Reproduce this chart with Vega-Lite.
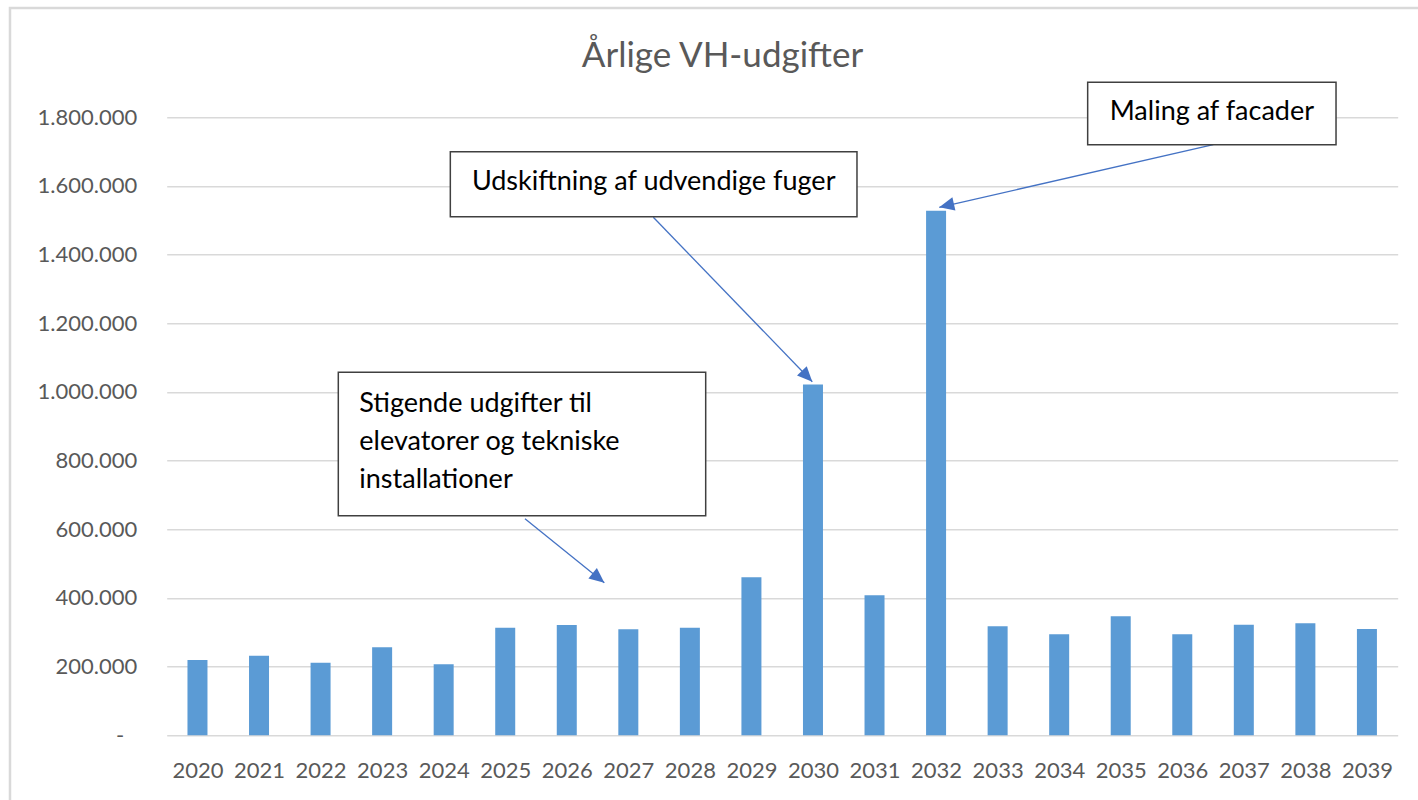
{
  "$schema": "https://vega.github.io/schema/vega-lite/v6.json",
  "width": 1231,
  "height": 618,
  "autosize": {"type": "none"},
  "padding": {"left": 166.7, "top": 117.3, "right": 20.3, "bottom": 64.7},
  "background": "white",
  "config": {"view": {"stroke": null}, "font": "Lato"},
  "title": {
    "text": "Årlige VH-udgifter",
    "font": "Lato",
    "fontSize": 35,
    "fontWeight": "normal",
    "color": "#595959",
    "anchor": "middle",
    "frame": "group",
    "dx": -59.7,
    "baseline": "alphabetic",
    "offset": -95
  },
  "datasets": {
    "costs": [
      {"year": 2020, "cost": 219300},
      {"year": 2021, "cost": 231800},
      {"year": 2022, "cost": 211500},
      {"year": 2023, "cost": 256300},
      {"year": 2024, "cost": 206800},
      {"year": 2025, "cost": 313400},
      {"year": 2026, "cost": 321300},
      {"year": 2027, "cost": 308700},
      {"year": 2028, "cost": 313400},
      {"year": 2029, "cost": 460200},
      {"year": 2030, "cost": 1022000},
      {"year": 2031, "cost": 407800},
      {"year": 2032, "cost": 1528000},
      {"year": 2033, "cost": 317500},
      {"year": 2034, "cost": 294000},
      {"year": 2035, "cost": 346600},
      {"year": 2036, "cost": 294000},
      {"year": 2037, "cost": 322000},
      {"year": 2038, "cost": 326000},
      {"year": 2039, "cost": 309600}
    ],
    "notes": [
      {"id": 1, "label": "Maling af facader", "bx1": 2034.463, "bx2": 2038.498, "by1": 1901940, "by2": 1720190, "tx": 2036.481, "ty": 1792150, "ax1": 2036.504, "ay1": 1720190, "ax2": 2032.052, "ay2": 1537860},
      {"id": 2, "label": "Udskiftning af udvendige fuger", "bx1": 2024.108, "bx2": 2030.715, "by1": 1699800, "by2": 1510480, "tx": 2027.412, "ty": 1588250, "ax1": 2027.406, "ay1": 1508740, "ax2": 2029.989, "ay2": 1029900},
      {"id": 3, "label": "Stigende udgifter til\nelevatorer og tekniske\ninstallationer", "bx1": 2022.288, "bx2": 2028.257, "by1": 1057280, "by2": 639610, "tx": 2022.629, "ty": 942520, "ax1": 2025.321, "ay1": 630870, "ax2": 2026.61, "ay2": 444470}
    ]
  },
  "layer": [
    {
      "data": {"values": [{}]},
      "mark": {"type": "rect", "fill": null, "stroke": "#d9d9d9", "strokeWidth": 2.5},
      "encoding": {
        "x": {"datum": 2016.954, "type": "quantitative"},
        "x2": {"datum": 2039.944},
        "y": {"datum": 2118350, "type": "quantitative"},
        "y2": {"datum": -250000}
      }
    },
    {
      "data": {"name": "costs"},
      "mark": {"type": "bar", "orient": "vertical", "size": 20, "color": "#5B9BD5"},
      "encoding": {
        "x": {
          "field": "year",
          "type": "quantitative",
          "scale": {"domain": [2019.5, 2039.5], "nice": false, "zero": false, "padding": 0},
          "axis": {
            "values": [2020, 2021, 2022, 2023, 2024, 2025, 2026, 2027, 2028, 2029, 2030, 2031, 2032, 2033, 2034, 2035, 2036, 2037, 2038, 2039],
            "format": "d",
            "title": null,
            "grid": false,
            "ticks": false,
            "tickSize": 0,
            "domain": false,
            "labelFont": "Lato",
            "labelFontSize": 22,
            "labelColor": "#595959",
            "labelPadding": 25,
            "labelOverlap": false,
            "labelFlush": false
          }
        },
        "y": {
          "field": "cost",
          "type": "quantitative",
          "scale": {"domain": [0, 1800000], "nice": false, "padding": 0},
          "axis": {
            "values": [0, 200000, 400000, 600000, 800000, 1000000, 1200000, 1400000, 1600000, 1800000],
            "title": null,
            "grid": true,
            "gridColor": "#d9d9d9",
            "gridWidth": 1.5,
            "ticks": false,
            "tickSize": 0,
            "domain": false,
            "labelFont": "Lato",
            "labelFontSize": 22,
            "labelColor": "#595959",
            "labelPadding": {"condition": {"test": "datum.value == 0", "value": 43}, "value": 30},
            "labelExpr": "datum.value == 0 ? '-' : replace(format(datum.value, ','), regexp(',', 'g'), '.')"
          }
        }
      }
    },
    {
      "data": {"name": "notes"},
      "mark": {"type": "rule", "color": "#4472C4", "strokeWidth": 1.3},
      "encoding": {
        "x": {"field": "ax1", "type": "quantitative"},
        "y": {"field": "ay1", "type": "quantitative"},
        "x2": {"field": "ax2"},
        "y2": {"field": "ay2"}
      }
    },
    {
      "data": {"name": "notes"},
      "transform": [{"filter": "datum.id == 1"}],
      "mark": {"type": "point", "shape": "M0,0L-0.45,1L0.45,1Z", "filled": true, "color": "#4472C4", "opacity": 1, "size": 900, "angle": 257.1},
      "encoding": {
        "x": {"field": "ax2", "type": "quantitative"},
        "y": {"field": "ay2", "type": "quantitative"}
      }
    },
    {
      "data": {"name": "notes"},
      "transform": [{"filter": "datum.id == 2"}],
      "mark": {"type": "point", "shape": "M0,0L-0.45,1L0.45,1Z", "filled": true, "color": "#4472C4", "opacity": 1, "size": 900, "angle": 136},
      "encoding": {
        "x": {"field": "ax2", "type": "quantitative"},
        "y": {"field": "ay2", "type": "quantitative"}
      }
    },
    {
      "data": {"name": "notes"},
      "transform": [{"filter": "datum.id == 3"}],
      "mark": {"type": "point", "shape": "M0,0L-0.45,1L0.45,1Z", "filled": true, "color": "#4472C4", "opacity": 1, "size": 900, "angle": 128.9},
      "encoding": {
        "x": {"field": "ax2", "type": "quantitative"},
        "y": {"field": "ay2", "type": "quantitative"}
      }
    },
    {
      "data": {"name": "notes"},
      "mark": {"type": "rect", "fill": "white", "stroke": "#404040", "strokeWidth": 1.5},
      "encoding": {
        "x": {"field": "bx1", "type": "quantitative"},
        "x2": {"field": "bx2"},
        "y": {"field": "by1", "type": "quantitative"},
        "y2": {"field": "by2"}
      }
    },
    {
      "data": {"name": "notes"},
      "transform": [{"filter": "datum.id != 3"}],
      "mark": {"type": "text", "align": "center", "baseline": "alphabetic", "font": "Lato", "fontSize": 27, "color": "#000000"},
      "encoding": {
        "x": {"field": "tx", "type": "quantitative"},
        "y": {"field": "ty", "type": "quantitative"},
        "text": {"field": "label"}
      }
    },
    {
      "data": {"name": "notes"},
      "transform": [{"filter": "datum.id == 3"}],
      "mark": {"type": "text", "align": "left", "baseline": "alphabetic", "font": "Lato", "fontSize": 27, "color": "#000000", "lineBreak": "\n", "lineHeight": 38.3},
      "encoding": {
        "x": {"field": "tx", "type": "quantitative"},
        "y": {"field": "ty", "type": "quantitative"},
        "text": {"field": "label"}
      }
    }
  ]
}
